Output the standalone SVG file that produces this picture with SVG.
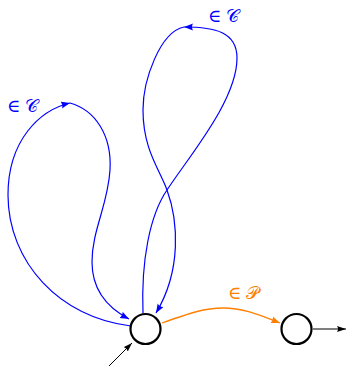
<svg xmlns="http://www.w3.org/2000/svg" width="347" height="367" viewBox="0 0 347 367">
<style>
.node{fill:#fff;stroke:#000;stroke-width:2.2}
.blue{fill:none;stroke:#0000ff;stroke-width:1.2}
.orange{fill:none;stroke:#ff8000;stroke-width:1.3}
.black{fill:none;stroke:#000;stroke-width:1}
.lb{font-family:"Liberation Serif","DejaVu Serif","Noto Sans",serif;font-size:18px}
</style>
<defs>
<marker id="ab" markerUnits="userSpaceOnUse" markerWidth="10" markerHeight="8" refX="9" refY="3.5" orient="auto"><path d="M0,0 L9,3.5 L0,7 Q2,3.5 0,0Z" fill="#0000ff"/></marker>
<marker id="ao" markerUnits="userSpaceOnUse" markerWidth="10" markerHeight="8" refX="9" refY="3.5" orient="auto"><path d="M0,0 L9,3.5 L0,7 Q2,3.5 0,0Z" fill="#ff8000"/></marker>
<marker id="ak" markerUnits="userSpaceOnUse" markerWidth="10" markerHeight="8" refX="9" refY="3.5" orient="auto"><path d="M0,0.5 L9,3.5 L0,6.5 Q2,3.5 0,0.5Z" fill="#000"/></marker>
</defs>
<g id="connectors">
<path class="blue" d="M131,326 C60,318 8,262 8,195 C8,140 40,110 70,103" marker-end="url(#ab)"/>
<path class="blue" d="M70,103 C95,110 112,135 110,170 C108,205 92,230 92,262 C92,290 108,308 129,319" marker-end="url(#ab)"/>
<path class="blue" d="M143,313 C141,260 150,215 167,190 C190,155 237,100 237,58 C237,32 215,27 184,27" marker-end="url(#ab)"/>
<path class="blue" d="M184,27 C160,32 143,80 143,110 C143,150 160,170 167,190 C178,220 182,270 156,313" marker-end="url(#ab)"/>
<path class="orange" d="M162,323 C190,313 205,308 223,308 C245,308 262,316 280,323" marker-end="url(#ao)"/>
<path class="black" d="M109,366 L132,343" marker-end="url(#ak)"/>
<path class="black" d="M313,329 L346,329" marker-end="url(#ak)"/>
</g>
<g id="labels">
<text class="lb" x="7" y="112" fill="#0000ff">∈ 𝒞</text>
<text class="lb" x="208" y="22" fill="#0000ff">∈ 𝒞</text>
<text class="lb" x="228" y="299" fill="#ff8000">∈ 𝒫</text>
</g>
<g id="q0"><circle class="node" cx="145.5" cy="329" r="15"/></g>
<g id="q1"><circle class="node" cx="296.5" cy="329" r="15"/></g>
</svg>
